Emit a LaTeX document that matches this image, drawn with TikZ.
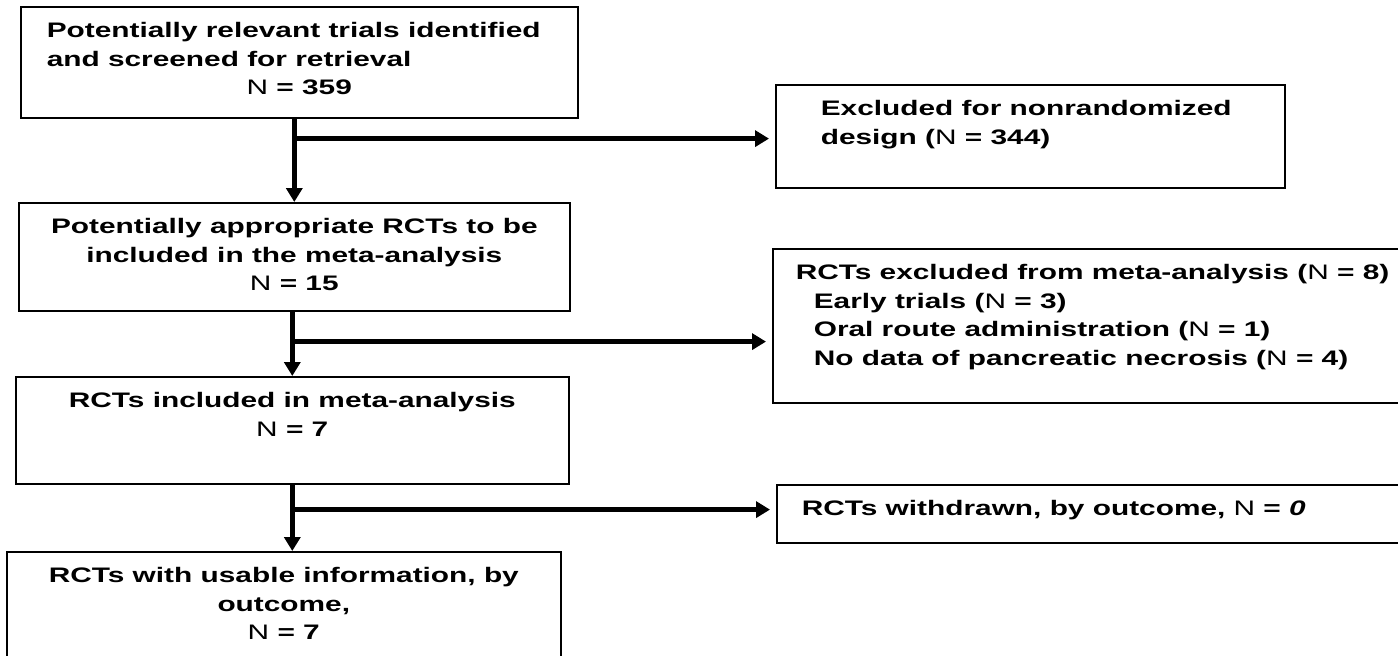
\documentclass[tikz,border=0pt]{standalone}
\usepackage{fontspec}
\setmainfont{Liberation Sans}[FakeStretch=1.42]
\usetikzlibrary{arrows.meta,calc}

\newcommand{\nN}{\textmd{N}}
\newcommand{\boxbody}[3]{\parbox[c][#2][t]{#1}{\fontsize{10.5}{14.25}\selectfont\bfseries\vspace*{5.5pt}\strut#3}}

\begin{document}
\begin{tikzpicture}[
    x=0.5pt, y=-0.5pt,
    flowbox/.style={draw=black, line width=0.8pt, inner sep=0pt,
      anchor=north west, font=\bfseries},
    arrow/.style={-{Triangle[length=7pt,width=8pt]}, line width=2.2pt},
    sidearrow/.style={arrow, shorten >=3pt}
  ]
    \path[use as bounding box, fill=white] (0,0) rectangle (1398,655);
    \node[flowbox] (trials) at (20,6) {\boxbody{278.5pt}{55.5pt}{\raggedright\leftskip=13pt Potentially relevant trials identified\\and screened for retrieval\par\centering \nN{} = 359}};
    \node[flowbox] (nonrand) at (775,84) {\boxbody{254.5pt}{51.5pt}{\raggedright\leftskip=22.5pt Excluded for nonrandomized\\design (\nN{} = 344)}};
    \node[flowbox] (approp) at (18,202) {\boxbody{275.5pt}{54pt}{\centering Potentially appropriate RCTs to be\\included in the meta-analysis\\\nN{} = 15}};
    \node[flowbox] (excl) at (772,248) {\boxbody{324pt}{77pt}{\raggedright\leftskip=11.5pt RCTs excluded from meta-analysis (\nN{} = 8)\\\hspace*{9pt}Early trials (\nN{} = 3)\\\hspace*{9pt}Oral route administration (\nN{} = 1)\\\hspace*{9pt}No data of pancreatic necrosis (\nN{} = 4)}};
    \node[flowbox] (incl) at (15,376) {\boxbody{276.5pt}{53.5pt}{\centering RCTs included in meta-analysis\\\nN{} = 7}};
    \node[flowbox] (withdr) at (776,484) {\boxbody{320pt}{29pt}{\raggedright\leftskip=12.5pt RCTs withdrawn, by outcome, \nN{} = \textit{0}}};
    \node[flowbox] (usable) at (6,551) {\boxbody{277pt}{60pt}{\centering RCTs with usable information, by\\outcome,\\\nN{} = 7}};
    % junctions of the side branches
    \coordinate (j1) at ($(trials.south -| approp.north)+(0,20)$);
    \coordinate (j2) at ($(approp.south -| incl.north)+(0,30)$);
    \coordinate (j3) at ($(incl.south)+(0,25)$);
    \draw[arrow] (trials.south -| approp.north) -- (approp.north);
    \draw[sidearrow] (j1) -- (j1 -| nonrand.west);
    \draw[arrow] (approp.south -| incl.north) -- (incl.north);
    \draw[sidearrow] (j2) -- (j2 -| excl.west);
    \draw[arrow] (incl.south) -- (incl.south |- usable.north);
    \draw[sidearrow] (j3) -- (j3 -| withdr.west);
  \end{tikzpicture}
\end{document}
